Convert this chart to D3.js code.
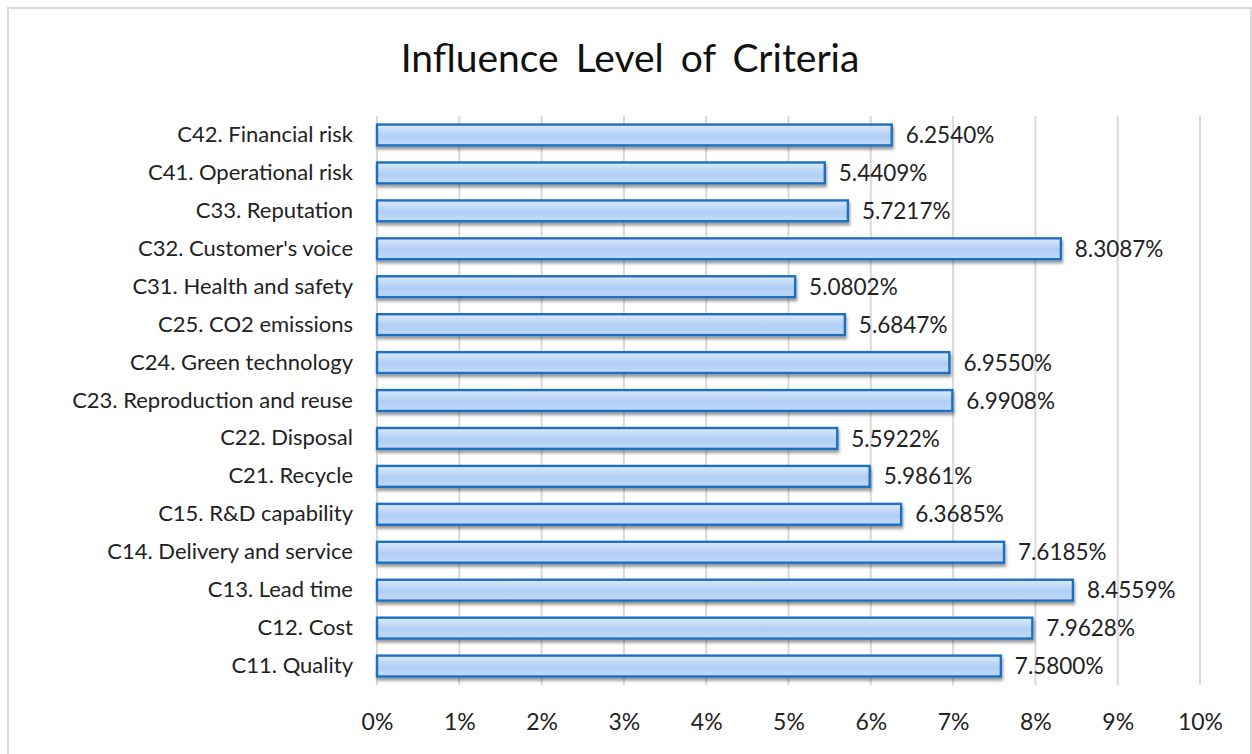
<!DOCTYPE html>
<html>
<head>
<meta charset="utf-8">
<script src="https://cdn.jsdelivr.net/npm/d3@7"></script>
<style>
  html, body { margin: 0; padding: 0; background: #fff; }
  svg { display: block; }
  text { font-family: Lato, "Open Sans", sans-serif; fill: #222; }
</style>
</head>
<body>
<svg id="chart" width="1252" height="754"></svg>
<script>
// Criteria, listed top to bottom
const categories = [
  "C42. Financial risk",
  "C41. Operational risk",
  "C33. Reputation",
  "C32. Customer's voice",
  "C31. Health and safety",
  "C25. CO2 emissions",
  "C24. Green technology",
  "C23. Reproduction and reuse",
  "C22. Disposal",
  "C21. Recycle",
  "C15. R&D capability",
  "C14. Delivery and service",
  "C13. Lead time",
  "C12. Cost",
  "C11. Quality"
];
// Influence level (percent)
const values = [
  6.2540, 5.4409, 5.7217, 8.3087, 5.0802, 5.6847, 6.9550, 6.9908,
  5.5922, 5.9861, 6.3685, 7.6185, 8.4559, 7.9628, 7.5800
];
const tickValues = [0, 1, 2, 3, 4, 5, 6, 7, 8, 9, 10];
const title = "Influence Level of Criteria";

const svg = d3.select("#chart");
const W = 1252, H = 754;
const plot = { left: 377, right: 1200, top: 116, bottom: 685 };

const x = d3.scaleLinear().domain([0, 10]).range([plot.left, plot.right]);
const y = d3.scaleBand().domain(categories).range([plot.top, plot.bottom]).paddingInner(0.45).paddingOuter(0.225);

const defs = svg.append("defs");
const grad = defs.append("linearGradient").attr("id", "barFill")
  .attr("x1", 0).attr("y1", 0).attr("x2", 0).attr("y2", 1);
grad.append("stop").attr("offset", "0%").attr("stop-color", "#dceafc");
grad.append("stop").attr("offset", "55%").attr("stop-color", "#b0cef5");
grad.append("stop").attr("offset", "100%").attr("stop-color", "#c4dbf8");

const shadow = defs.append("filter").attr("id", "barShadow")
  .attr("x", "-5%").attr("y", "-50%").attr("width", "110%").attr("height", "220%");
shadow.append("feDropShadow").attr("dx", 1).attr("dy", 3).attr("stdDeviation", 1.6)
  .attr("flood-color", "#000").attr("flood-opacity", 0.4);

// outer frame
svg.append("rect").attr("x", 8).attr("y", 8).attr("width", W - 9).attr("height", H)
  .attr("fill", "#fff").attr("stroke", "#d9d9d9").attr("stroke-width", 2);

// title
svg.append("text").attr("x", 630).attr("y", 72).attr("text-anchor", "middle")
  .style("font-size", "39px").style("word-spacing", "7px").style("fill", "#111").text(title);

// vertical gridlines
svg.append("g").selectAll("line").data(tickValues).join("line")
  .attr("x1", d => x(d)).attr("x2", d => x(d))
  .attr("y1", plot.top).attr("y2", plot.bottom)
  .attr("stroke", "#d9d9d9").attr("stroke-width", 2);

// x axis tick labels
const xAxis = d3.axisBottom(x).tickValues(tickValues).tickFormat(d => d + "%").tickSize(0).tickPadding(0);
const gx = svg.append("g").attr("transform", `translate(0,${plot.bottom})`).call(xAxis);
gx.select(".domain").remove();
gx.selectAll("text").attr("dy", 0).attr("y", 45).style("font-size", "23px").style("font-family", "Lato, sans-serif").style("fill", "#222");

// category labels
const yAxis = d3.axisLeft(y).tickSize(0).tickPadding(0);
const gy = svg.append("g").attr("transform", `translate(353,0)`).call(yAxis);
gy.select(".domain").remove();
gy.selectAll("text").style("font-size", "22px").style("font-family", "Lato, sans-serif").style("fill", "#222");

// bars
svg.append("g").selectAll("rect").data(categories).join("rect")
  .attr("x", x(0))
  .attr("y", d => y(d))
  .attr("width", (d, i) => x(values[i]) - x(0))
  .attr("height", y.bandwidth())
  .attr("fill", "url(#barFill)")
  .attr("stroke", "#1f70c1").attr("stroke-width", 2.4)
  .attr("filter", "url(#barShadow)");

// value labels
svg.append("g").selectAll("text").data(categories).join("text")
  .attr("x", (d, i) => x(values[i]) + 14)
  .attr("y", d => y(d) + y.bandwidth() / 2)
  .attr("dy", "0.36em")
  .style("font-size", "22.5px")
  .text((d, i) => values[i].toFixed(4) + "%");
</script>
</body>
</html>
